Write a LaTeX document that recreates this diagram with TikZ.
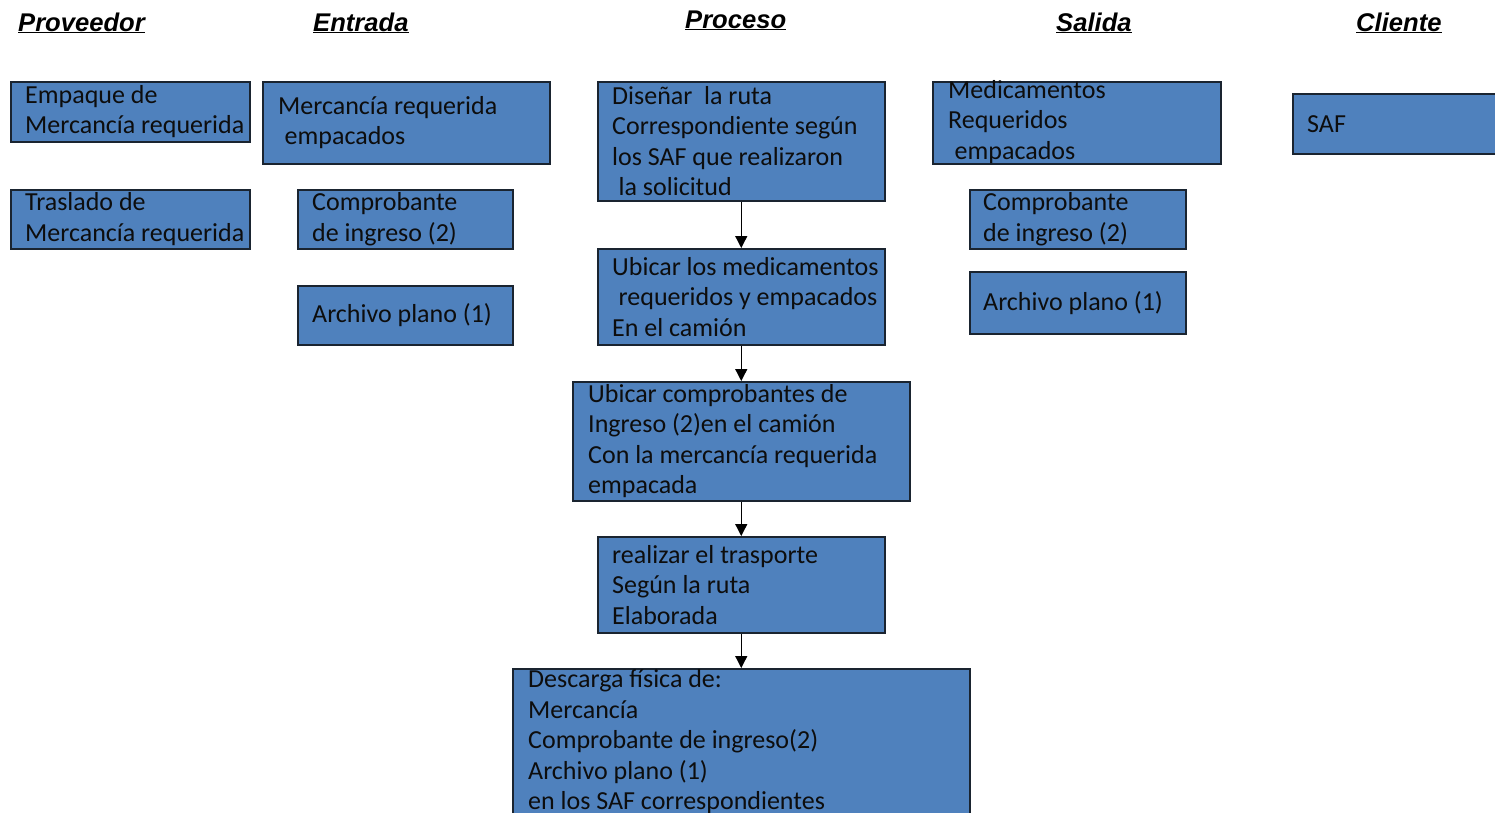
\documentclass[tikz,border=0pt]{standalone}
\usepackage{fontspec}
\setmainfont{Carlito}
\newfontfamily\headfont{Liberation Sans}
\usetikzlibrary{arrows.meta,positioning}
\definecolor{boxfill}{HTML}{4F81BD}
\definecolor{boxline}{HTML}{1A2430}
\definecolor{txtcol}{HTML}{0D0D0D}
\begin{document}
\begin{tikzpicture}[x=1pt,y=-1pt,
  box/.style={draw=boxline, line width=1.5pt, fill=boxfill, inner sep=0pt, anchor=north west},
  txt/.style={anchor=west, align=left, inner sep=0pt, text=txtcol,
    font=\fontsize{26}{30.5}\selectfont},
  head/.style={anchor=base west, inner sep=0pt, text=black,
    font=\headfont\bfseries\itshape\fontsize{25.6}{30}\selectfont},
  flow/.style={line width=1.3pt, draw=black, -{Triangle[length=12pt,width=12pt]}}]
\useasboundingbox (0,0) rectangle (1495,812);
\clip (0,0) rectangle (1495,812);
\fill[white] (0,0) rectangle (1495,812);

% headers
\node[head] (hprov) at (18,31) {\underline{Proveedor}};
\node[head] (hent) at (313,31) {\underline{Entrada}};
\node[head] (hproc) at (685,28) {\underline{Proceso}};
\node[head] (hsal) at (1056,31) {\underline{Salida}};
\node[head] (hcli) at (1356,31) {\underline{Cliente}};

% Proveedor
\node[box, minimum width=239pt, minimum height=60pt] (prov1) at (10,81) {};
\node[txt] (tprov1) at ([xshift=15pt]prov1.west) {Empaque de\\Mercancía requerida};
\node[box, minimum width=239pt, minimum height=59pt] (prov2) at (10,189) {};
\node[txt] (tprov2) at ([xshift=15pt]prov2.west) {Traslado de\\Mercancía requerida};

% Entrada
\node[box, minimum width=287pt, minimum height=82pt] (ent1) at (262,81) {};
\node[txt] (tent1) at ([xshift=16pt]ent1.west) {Mercancía requerida\\\hspace*{0.25em}empacados};
\node[box, minimum width=215pt, minimum height=59pt] (ent2) at (297,189) {};
\node[txt] (tent2) at ([xshift=15pt]ent2.west) {Comprobante\\de ingreso (2)};
\node[box, minimum width=215pt, minimum height=59pt] (ent3) at (297,285) {};
\node[txt] (tent3) at ([xshift=15pt]ent3.west) {Archivo plano (1)};

% Proceso
\node[box, minimum width=287pt, minimum height=119pt] (p1) at (597,81) {};
\node[txt] (tp1) at ([xshift=15pt]p1.west) {Diseñar\ \ la ruta\\Correspondiente según\\los SAF que realizaron\\\hspace*{0.25em}la solicitud};
\node[box, minimum width=287pt, minimum height=96pt] (p2) at (597,248) {};
\node[txt] (tp2) at ([xshift=15pt]p2.west) {Ubicar los medicamentos\\\hspace*{0.25em}requeridos y empacados\\En el camión};
\node[box, minimum width=337pt, minimum height=119pt] (p3) at (572,381) {};
\node[txt] (tp3) at ([xshift=16pt]p3.west) {Ubicar comprobantes de\\Ingreso (2)en el camión\\Con la mercancía requerida\\empacada};
\node[box, minimum width=287pt, minimum height=96pt] (p4) at (597,536) {};
\node[txt] (tp4) at ([xshift=15pt]p4.west) {realizar el trasporte\\Según la ruta\\Elaborada};
\node[box, minimum width=457pt, minimum height=148pt] (p5) at (512,668) {};
\node[txt] (tp5) at ([xshift=16pt,yshift=1pt]p5.west) {Descarga física de:\\Mercancía\\Comprobante de ingreso(2)\\Archivo plano (1)\\en los SAF correspondientes};

% Salida
\node[box, minimum width=288pt, minimum height=82pt] (s1) at (932,81) {};
\node[txt] (ts1) at ([xshift=16pt,yshift=1pt]s1.west) {Medicamentos\\Requeridos\\\hspace*{0.25em}empacados};
\node[box, minimum width=216pt, minimum height=59pt] (s2) at (969,189) {};
\node[txt] (ts2) at ([xshift=14pt]s2.west) {Comprobante\\de ingreso (2)};
\node[box, minimum width=216pt, minimum height=62pt] (s3) at (969,271) {};
\node[txt] (ts3) at ([xshift=14pt]s3.west) {Archivo plano (1)};

% Cliente
\node[box, minimum width=220pt, minimum height=60pt] (c1) at (1292,93) {};
\node[txt] (tc1) at ([xshift=15pt]c1.west) {SAF};

% connectors
\draw[flow] (p1) -- (p2);
\draw[flow] (p2) -- (p3);
\draw[flow] (p3) -- (p4);
\draw[flow] (p4) -- (p5);
\end{tikzpicture}
\end{document}
